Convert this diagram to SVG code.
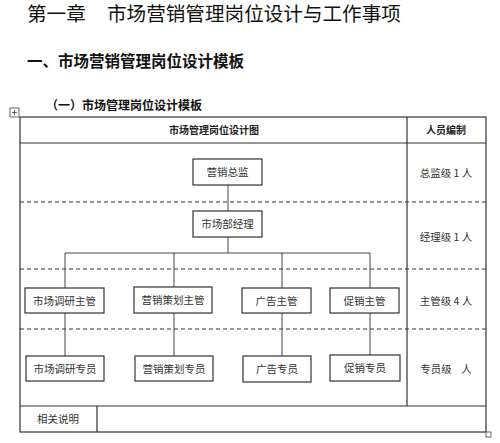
<svg xmlns="http://www.w3.org/2000/svg" width="500" height="443" viewBox="0 0 500 443">
<style>
text{font-family:"Noto Sans CJK SC","Liberation Sans",sans-serif;fill:#222}
.t1{font-size:19.6px;fill:#111}
.t2{font-size:15.5px;font-weight:bold;fill:#111}
.t3{font-size:12px;font-weight:bold;fill:#111}
.hd{font-size:10px;font-weight:bold;text-anchor:middle}
.lb{font-size:10.5px;text-anchor:middle;fill:#333}
.box{fill:#fff;stroke:#333;stroke-width:1.2}
.ln{stroke:#444;stroke-width:1;fill:none}
.bd{stroke:#333;stroke-width:1.2;fill:none}
.ds{stroke:#333;stroke-width:1;stroke-dasharray:4 3;fill:none}
</style>
<rect width="500" height="443" fill="#fff"/>
<text class="t1" x="27" y="21">第一章</text>
<text class="t1" x="107" y="21">市场营销管理岗位设计与工作事项</text>
<text class="t2" x="27" y="67">一、市场营销管理岗位设计模板</text>
<text class="t3" x="46" y="110">（一）市场管理岗位设计模板</text>
<g id="table">
<rect x="10" y="108" width="9" height="9" fill="#fff" stroke="#444" stroke-width="0.8"/>
<path d="M14.5 110v5M12 112.5h5" stroke="#444" stroke-width="0.8"/>
<rect x="20" y="117" width="466" height="315" class="bd"/>
<path class="bd" d="M20 143H486M407 117V406M20 406H486M97 406V432"/>
<path class="ds" d="M20 202H486M20 269H486M20 329H486"/>
<rect x="486" y="432" width="5" height="5" fill="#fff" stroke="#444" stroke-width="0.8"/>
<text class="hd" x="214" y="134">市场管理岗位设计图</text>
<text class="hd" x="446" y="134">人员编制</text>
<text class="lb" x="446" y="177">总监级 1 人</text>
<text class="lb" x="446" y="241">经理级 1 人</text>
<text class="lb" x="446" y="305">主管级 4 人</text>
<text class="lb" x="446" y="373" xml:space="preserve" style="white-space:pre">专员级    人</text>
<text class="lb" x="58" y="423">相关说明</text>
</g>
<g id="connectors">
<path class="ln" d="M228 185V211M228 237V253M65 253H370M65 253V288M174 253V287M282 253V288M370 253V288"/>
<path class="ln" d="M65 313V356M174 313V356M282 313V356M370 313V355"/>
</g>
<g id="n1"><rect class="box" x="193" y="159" width="69" height="26"/><text class="lb" x="227.5" y="176">营销总监</text></g>
<g id="n2"><rect class="box" x="193" y="211" width="69" height="26"/><text class="lb" x="227.5" y="228">市场部经理</text></g>
<g id="n3"><rect class="box" x="25" y="288" width="79" height="25"/><text class="lb" x="64.5" y="304.5">市场调研主管</text></g>
<g id="n4"><rect class="box" x="134" y="287" width="78" height="26"/><text class="lb" x="173" y="304">营销策划主管</text></g>
<g id="n5"><rect class="box" x="242" y="288" width="69" height="25"/><text class="lb" x="276.5" y="304.5">广告主管</text></g>
<g id="n6"><rect class="box" x="330" y="288" width="69" height="25"/><text class="lb" x="364.5" y="304.5">促销主管</text></g>
<g id="n7"><rect class="box" x="26" y="356" width="78" height="25"/><text class="lb" x="65" y="372.5">市场调研专员</text></g>
<g id="n8"><rect class="box" x="135" y="356" width="78" height="25"/><text class="lb" x="174" y="372.5">营销策划专员</text></g>
<g id="n9"><rect class="box" x="243" y="356" width="68" height="26"/><text class="lb" x="277" y="373">广告专员</text></g>
<g id="n10"><rect class="box" x="330" y="355" width="70" height="26"/><text class="lb" x="365" y="372">促销专员</text></g>
</svg>
